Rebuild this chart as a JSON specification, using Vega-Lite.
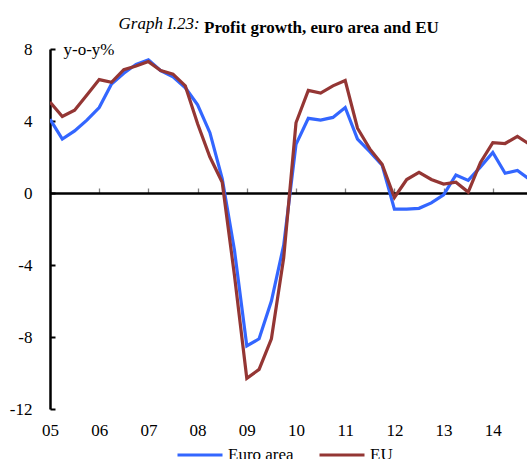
{
  "$schema": "https://vega.github.io/schema/vega-lite/v6.json",
  "width": 477,
  "height": 360,
  "autosize": {"type": "none"},
  "padding": {"left": 50, "top": 49, "right": 0, "bottom": 50},
  "background": "white",
  "config": {"view": {"stroke": null}},
  "title": {
    "text": "Profit growth, euro area and EU",
    "font": "Liberation Serif",
    "fontSize": 17,
    "fontWeight": "bold",
    "color": "black",
    "anchor": "start",
    "frame": "group",
    "dx": 154,
    "baseline": "alphabetic",
    "offset": -36
  },
  "data": {
    "values": [
      {"year": 2005.00, "series": "Euro area", "value": 4.1},
      {"year": 2005.25, "series": "Euro area", "value": 3.0},
      {"year": 2005.50, "series": "Euro area", "value": 3.45},
      {"year": 2005.75, "series": "Euro area", "value": 4.05},
      {"year": 2006.00, "series": "Euro area", "value": 4.75},
      {"year": 2006.25, "series": "Euro area", "value": 6.05},
      {"year": 2006.50, "series": "Euro area", "value": 6.65},
      {"year": 2006.75, "series": "Euro area", "value": 7.15},
      {"year": 2007.00, "series": "Euro area", "value": 7.4},
      {"year": 2007.25, "series": "Euro area", "value": 6.8},
      {"year": 2007.50, "series": "Euro area", "value": 6.45},
      {"year": 2007.75, "series": "Euro area", "value": 5.85},
      {"year": 2008.00, "series": "Euro area", "value": 4.9},
      {"year": 2008.25, "series": "Euro area", "value": 3.35},
      {"year": 2008.50, "series": "Euro area", "value": 0.8},
      {"year": 2008.75, "series": "Euro area", "value": -3.2},
      {"year": 2009.00, "series": "Euro area", "value": -8.5},
      {"year": 2009.25, "series": "Euro area", "value": -8.1},
      {"year": 2009.50, "series": "Euro area", "value": -6.0},
      {"year": 2009.75, "series": "Euro area", "value": -2.9},
      {"year": 2010.00, "series": "Euro area", "value": 2.7},
      {"year": 2010.25, "series": "Euro area", "value": 4.15},
      {"year": 2010.50, "series": "Euro area", "value": 4.05},
      {"year": 2010.75, "series": "Euro area", "value": 4.2},
      {"year": 2011.00, "series": "Euro area", "value": 4.75},
      {"year": 2011.25, "series": "Euro area", "value": 3.0},
      {"year": 2011.50, "series": "Euro area", "value": 2.3},
      {"year": 2011.75, "series": "Euro area", "value": 1.55},
      {"year": 2012.00, "series": "Euro area", "value": -0.9},
      {"year": 2012.25, "series": "Euro area", "value": -0.9},
      {"year": 2012.50, "series": "Euro area", "value": -0.85},
      {"year": 2012.75, "series": "Euro area", "value": -0.55},
      {"year": 2013.00, "series": "Euro area", "value": -0.1},
      {"year": 2013.25, "series": "Euro area", "value": 1.0},
      {"year": 2013.50, "series": "Euro area", "value": 0.7},
      {"year": 2013.75, "series": "Euro area", "value": 1.45},
      {"year": 2014.00, "series": "Euro area", "value": 2.25},
      {"year": 2014.25, "series": "Euro area", "value": 1.1},
      {"year": 2014.50, "series": "Euro area", "value": 1.25},
      {"year": 2014.75, "series": "Euro area", "value": 0.75},
      {"year": 2005.00, "series": "EU", "value": 5.05},
      {"year": 2005.25, "series": "EU", "value": 4.25},
      {"year": 2005.50, "series": "EU", "value": 4.6},
      {"year": 2005.75, "series": "EU", "value": 5.45},
      {"year": 2006.00, "series": "EU", "value": 6.3},
      {"year": 2006.25, "series": "EU", "value": 6.15},
      {"year": 2006.50, "series": "EU", "value": 6.85},
      {"year": 2006.75, "series": "EU", "value": 7.05},
      {"year": 2007.00, "series": "EU", "value": 7.3},
      {"year": 2007.25, "series": "EU", "value": 6.8},
      {"year": 2007.50, "series": "EU", "value": 6.6},
      {"year": 2007.75, "series": "EU", "value": 5.95},
      {"year": 2008.00, "series": "EU", "value": 3.85},
      {"year": 2008.25, "series": "EU", "value": 2.0},
      {"year": 2008.50, "series": "EU", "value": 0.6},
      {"year": 2008.75, "series": "EU", "value": -4.6},
      {"year": 2009.00, "series": "EU", "value": -10.3},
      {"year": 2009.25, "series": "EU", "value": -9.8},
      {"year": 2009.50, "series": "EU", "value": -8.1},
      {"year": 2009.75, "series": "EU", "value": -3.6},
      {"year": 2010.00, "series": "EU", "value": 3.9},
      {"year": 2010.25, "series": "EU", "value": 5.7},
      {"year": 2010.50, "series": "EU", "value": 5.55},
      {"year": 2010.75, "series": "EU", "value": 5.95},
      {"year": 2011.00, "series": "EU", "value": 6.25},
      {"year": 2011.25, "series": "EU", "value": 3.6},
      {"year": 2011.50, "series": "EU", "value": 2.45},
      {"year": 2011.75, "series": "EU", "value": 1.6},
      {"year": 2012.00, "series": "EU", "value": -0.25},
      {"year": 2012.25, "series": "EU", "value": 0.75},
      {"year": 2012.50, "series": "EU", "value": 1.15},
      {"year": 2012.75, "series": "EU", "value": 0.75},
      {"year": 2013.00, "series": "EU", "value": 0.5},
      {"year": 2013.25, "series": "EU", "value": 0.6},
      {"year": 2013.50, "series": "EU", "value": 0.05},
      {"year": 2013.75, "series": "EU", "value": 1.7},
      {"year": 2014.00, "series": "EU", "value": 2.8},
      {"year": 2014.25, "series": "EU", "value": 2.75},
      {"year": 2014.50, "series": "EU", "value": 3.15},
      {"year": 2014.75, "series": "EU", "value": 2.7}
    ]
  },
  "encoding": {
    "y": {
      "field": "value",
      "type": "quantitative",
      "scale": {"domain": [-12, 8], "nice": false, "zero": false},
      "axis": {
        "values": [-12, -8, -4, 0, 4, 8],
        "labelExpr": "toString(datum.value)",
        "grid": false,
        "domainColor": "black",
        "domainWidth": 2.5,
        "tickColor": "black",
        "tickWidth": 2,
        "tickSize": -5,
        "labelFont": "Liberation Serif",
        "labelFontSize": 17,
        "labelColor": "black",
        "labelPadding": 23,
        "title": "y-o-y%",
        "titleAngle": 0,
        "titleAlign": "left",
        "titleBaseline": "middle",
        "titleX": 13,
        "titleY": 0,
        "titleFont": "Liberation Serif",
        "titleFontSize": 17,
        "titleFontWeight": "normal",
        "titleColor": "black"
      }
    },
    "color": {
      "field": "series",
      "type": "nominal",
      "scale": {"domain": ["Euro area", "EU"], "range": ["#3366ff", "#943634"]},
      "legend": {
        "orient": "none",
        "legendX": 126,
        "legendY": 382,
        "direction": "horizontal",
        "title": null,
        "padding": 0,
        "symbolType": "stroke",
        "symbolSize": 2025,
        "symbolStrokeWidth": 3,
        "labelFont": "Liberation Serif",
        "labelFontSize": 17,
        "labelColor": "black",
        "labelOffset": 4,
        "columnPadding": 19
      }
    }
  },
  "layer": [
    {
      "transform": [{"filter": "datum.series === 'Euro area'"}],
      "mark": {"type": "line", "clip": true, "strokeWidth": 3.2},
      "encoding": {
        "x": {
          "field": "year",
          "type": "quantitative",
          "scale": {"domain": [2005, 2014.695], "nice": false, "zero": false},
          "axis": {
            "orient": "bottom",
            "offset": -216,
            "values": [2005, 2006, 2007, 2008, 2009, 2010, 2011, 2012, 2013, 2014],
            "labels": false,
            "grid": false,
            "domainColor": "black",
            "domainWidth": 2.5,
            "tickColor": "#808080",
            "tickWidth": 1.3,
            "tickSize": -5,
            "title": "Graph I.23:",
            "titleFont": "Liberation Serif",
            "titleFontSize": 17,
            "titleFontStyle": "italic",
            "titleFontWeight": "normal",
            "titleColor": "black",
            "titleAlign": "left",
            "titleBaseline": "alphabetic",
            "titleX": 68,
            "titleY": -165
          }
        }
      }
    },
    {
      "transform": [{"filter": "datum.series === 'EU'"}],
      "mark": {"type": "line", "clip": true, "strokeWidth": 3.2},
      "encoding": {
        "x": {
          "field": "year",
          "type": "quantitative",
          "scale": {"domain": [2005, 2014.695], "nice": false, "zero": false},
          "axis": {
            "orient": "bottom",
            "values": [2005, 2006, 2007, 2008, 2009, 2010, 2011, 2012, 2013, 2014],
            "labelExpr": "substring(toString(datum.value), 2, 4)",
            "domain": false,
            "ticks": false,
            "grid": false,
            "labelFont": "Liberation Serif",
            "labelFontSize": 17,
            "labelColor": "black",
            "labelBaseline": "middle",
            "labelPadding": 21,
            "labelFlush": false,
            "labelOverlap": false,
            "title": null
          }
        }
      }
    }
  ],
  "resolve": {"axis": {"x": "independent"}}
}
